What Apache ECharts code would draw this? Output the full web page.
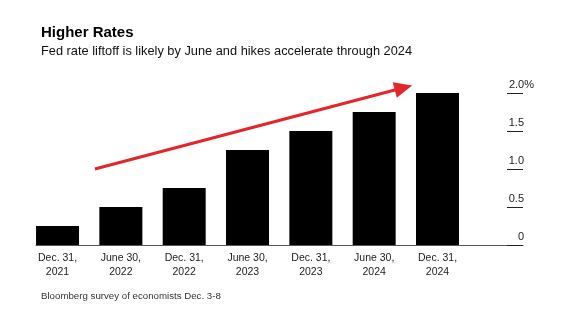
<!DOCTYPE html>
<html>
<head>
<meta charset="utf-8">
<script src="https://cdn.jsdelivr.net/npm/echarts@6/dist/echarts.min.js"></script>
<style>
html,body{margin:0;padding:0;background:#fff;}
#c{width:570px;height:324px;}
</style>
</head>
<body>
<div id="c"></div>
<script>
const categories = ['Dec. 31,\n2021','June 30,\n2022','Dec. 31,\n2022','June 30,\n2023','Dec. 31,\n2023','June 30,\n2024','Dec. 31,\n2024'];
const rates = [0.25, 0.5, 0.75, 1.25, 1.5, 1.75, 2.0];
const yTicks = [0, 0.5, 1.0, 1.5, 2.0];
const yTickLabels = ['0', '0.5', '1.0', '1.5', '2.0%'];
const arrowFrom = [0.59, 1.0];
const arrowTo = [5.6, 2.1];

const font = '"Liberation Sans", Arial, sans-serif';
const chart = echarts.init(document.getElementById('c'), null, {renderer: 'canvas'});

const option = {
  backgroundColor: '#fff',
  animation: false,
  title: [
    {text: 'Higher Rates', left: 36, top: 20,
     textStyle: {fontFamily: font, fontSize: 15, fontWeight: 'bold', color: '#000'}},
    {text: 'Fed rate liftoff is likely by June and hikes accelerate through 2024', left: 36, top: 40,
     textStyle: {fontFamily: font, fontSize: 12.8, fontWeight: 'normal', color: '#111'}},
    {text: 'Bloomberg survey of economists Dec. 3-8', left: 36, top: 286,
     textStyle: {fontFamily: font, fontSize: 9.7, fontWeight: 'normal', color: '#333'}}
  ],
  grid: {left: 36, right: 47, top: 93, bottom: 79},
  xAxis: {
    type: 'value',
    min: -0.34,
    max: 7.35,
    splitLine: {show: false},
    axisLine: {show: true, onZero: false, lineStyle: {color: '#555', width: 1}},
    axisTick: {show: false},
    axisLabel: {
      customValues: categories.map((c, i) => i),
      formatter: v => categories[Math.round(v)] || '',
      fontFamily: font, fontSize: 10.5, color: '#222', lineHeight: 14, margin: 6
    }
  },
  yAxis: {
    type: 'value',
    position: 'right',
    min: 0, max: 2, interval: 0.5,
    splitLine: {show: false},
    axisLine: {show: false, onZero: false},
    axisTick: {show: true, inside: true, length: 16, lineStyle: {color: '#222', width: 1}},
    axisLabel: {
      show: true,
      align: 'right',
      verticalAlign: 'bottom',
      margin: 11,
      padding: [0, 0, 3, 0],
      formatter: v => {
        const idx = yTicks.findIndex(t => Math.abs(t - v) < 1e-9);
        const s = idx >= 0 ? yTickLabels[idx] : '';
        return s.indexOf('%') >= 0 ? '{p|' + s + '}' : '{n|' + s + '}';
      },
      rich: {
        n: {fontFamily: font, fontSize: 11, color: '#222', padding: [0, 10, 0, 0]},
        p: {fontFamily: font, fontSize: 11, color: '#222'}
      }
    }
  },
  series: [{
    type: 'bar',
    data: rates.map((v, i) => [i, v]),
    barWidth: 43,
    itemStyle: {color: '#000'},
    silent: true
  }]
};
chart.setOption(option);

const p0 = chart.convertToPixel({gridIndex: 0}, arrowFrom);
const p1 = chart.convertToPixel({gridIndex: 0}, arrowTo);
const ang = Math.atan2(p1[1] - p0[1], p1[0] - p0[0]);
const headLen = 18, headHalf = 8;
const bx = p1[0] - headLen * Math.cos(ang), by = p1[1] - headLen * Math.sin(ang);
const nx = -Math.sin(ang), ny = Math.cos(ang);
chart.setOption({
  graphic: [
    {type: 'line', shape: {x1: p0[0], y1: p0[1], x2: bx + 2 * Math.cos(ang), y2: by + 2 * Math.sin(ang)},
     style: {stroke: '#e3262c', lineWidth: 3}},
    {type: 'polygon', shape: {points: [[p1[0], p1[1]], [bx + nx * headHalf, by + ny * headHalf], [bx - nx * headHalf, by - ny * headHalf]]},
     style: {fill: '#e3262c'}}
  ]
});
</script>
</body>
</html>
